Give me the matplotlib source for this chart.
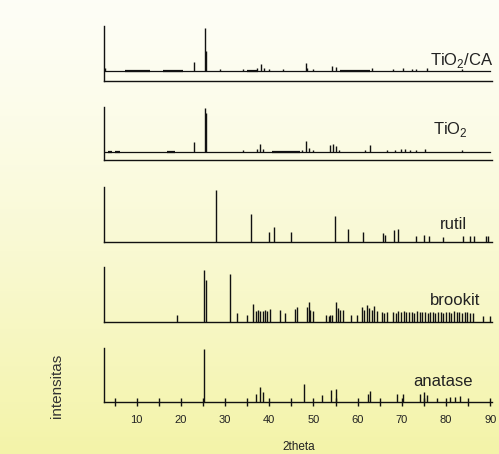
import numpy as np
import matplotlib
matplotlib.use("Agg")
import matplotlib.pyplot as plt

plt.rcParams['font.family'] = ['Liberation Sans', 'DejaVu Sans']
plt.rcParams['mathtext.fontset'] = 'custom'
plt.rcParams['mathtext.rm'] = 'Liberation Sans'

# --- data (2theta, relative height in panel) ---
# TiO2/CA measured pattern
ca_base = 0.19
ca_noise = [(7.3, 13.0), (16.0, 20.5), (34.9, 37.5), (56.0, 62.8)]
ca_peak_x = [2.9, 22.9, 25.5, 25.7, 28.8, 34.1, 37.3, 38.1, 38.9, 40.0, 43.2,
             48.2, 48.6, 50.0, 54.1, 55.2, 63.2, 68.1, 70.3, 72.2, 73.3, 75.6, 83.5]
ca_peak_y = [0.24, 0.35, 0.96, 0.55, 0.21, 0.22, 0.24, 0.31, 0.24, 0.22, 0.22,
             0.33, 0.24, 0.21, 0.27, 0.26, 0.24, 0.22, 0.23, 0.22, 0.22, 0.23, 0.21]

# TiO2 measured pattern
ti_base = 0.16
ti_noise = [(3.5, 4.3), (5.0, 6.3), (16.8, 18.7), (40.5, 47.0)]
ti_peak_x = [22.9, 25.4, 25.6, 34.0, 37.3, 37.9, 38.5, 47.3, 48.3, 48.9, 50.0,
             53.7, 54.5, 55.2, 55.8, 61.7, 62.8, 66.6, 68.4, 69.9, 70.7, 71.8,
             73.3, 75.2, 83.5]
ti_peak_y = [0.34, 0.99, 0.88, 0.19, 0.22, 0.30, 0.21, 0.20, 0.36, 0.23, 0.19,
             0.28, 0.31, 0.27, 0.20, 0.20, 0.29, 0.19, 0.20, 0.21, 0.22, 0.20,
             0.20, 0.21, 0.19]

# reference stick patterns
rutil_x = [27.9, 35.9, 39.9, 41.0, 44.8, 54.9, 57.9, 61.3, 65.7, 66.1, 68.2,
           69.2, 73.3, 75.0, 76.2, 79.4, 83.8, 85.4, 86.4, 89.0, 89.4]
rutil_y = [0.95, 0.50, 0.18, 0.27, 0.18, 0.47, 0.23, 0.18, 0.16, 0.12, 0.21,
           0.23, 0.10, 0.12, 0.10, 0.08, 0.10, 0.10, 0.10, 0.10, 0.10]

brook_x = [19.2, 25.3, 25.6, 31.0, 32.7, 34.9, 36.3, 37.1, 37.5, 38.0, 38.5,
           39.0, 39.4, 40.2, 42.4, 43.6, 45.8, 46.2, 48.5, 48.9, 49.3, 50.0,
           52.9, 53.4, 53.8, 54.2, 55.0, 55.5, 56.0, 56.7, 58.6, 59.8, 60.9,
           61.5, 62.0, 62.6, 63.2, 63.8, 64.3, 65.4, 66.0, 66.6, 68.0, 68.6,
           69.2, 69.8, 70.4, 71.0, 71.6, 72.2, 72.8, 73.4, 74.0, 74.6, 75.2,
           75.8, 76.4, 77.0, 77.6, 78.2, 78.8, 79.4, 80.0, 80.6, 81.2, 81.8,
           82.4, 83.0, 83.6, 84.2, 84.8, 85.4, 86.0, 88.3, 89.9]
brook_y = [0.12, 0.95, 0.76, 0.88, 0.15, 0.12, 0.32, 0.20, 0.21, 0.19, 0.20,
           0.21, 0.19, 0.23, 0.21, 0.15, 0.24, 0.27, 0.27, 0.36, 0.22, 0.20,
           0.12, 0.10, 0.12, 0.13, 0.36, 0.25, 0.22, 0.22, 0.12, 0.12, 0.27,
           0.22, 0.30, 0.25, 0.22, 0.28, 0.20, 0.18, 0.15, 0.18, 0.18, 0.16,
           0.20, 0.18, 0.19, 0.17, 0.18, 0.18, 0.16, 0.19, 0.18, 0.17, 0.18,
           0.16, 0.17, 0.18, 0.16, 0.18, 0.17, 0.16, 0.18, 0.17, 0.16, 0.20,
           0.18, 0.17, 0.16, 0.18, 0.17, 0.16, 0.15, 0.10, 0.10]

ana_x = [25.2, 36.9, 37.9, 38.6, 47.9, 52.0, 53.9, 55.2, 62.3, 62.8, 68.8,
         70.3, 74.1, 75.0, 75.6, 77.9, 80.9, 82.0, 83.1]
ana_y = [0.98, 0.16, 0.28, 0.19, 0.33, 0.13, 0.22, 0.24, 0.15, 0.20, 0.16,
         0.16, 0.16, 0.18, 0.14, 0.08, 0.10, 0.10, 0.12]

labels = ['TiO$_2$/CA', 'TiO$_2$', 'rutil', 'brookit', 'anatase']
major_ticks = [10, 20, 30, 40, 50, 60, 70, 80, 90]
minor_ticks = [5, 15, 25, 35, 45, 55, 65, 75, 85]

# --- figure ---
W, H = 499, 454
fig = plt.figure(figsize=(W / 100, H / 100), dpi=100)

# yellowish gradient background
bg = fig.add_axes([0, 0, 1, 1], zorder=-10)
t = np.linspace(0, 1, 256)[:, None]
top = np.array([0.995, 0.995, 0.965])
bot = np.array([0.955, 0.955, 0.66])
grad = top + (bot - top) * (t ** 1.3)[:, :, None] * np.ones((1, 2, 1))
bg.imshow(grad, aspect='auto', extent=[0, 1, 0, 1], origin='upper')
bg.axis('off')

# panel rectangles in pixels: (top, bottom)
panels_px = [(26, 81), (107, 160.3), (187, 241.7), (267, 321.7), (347.5, 402.3)]
left_px, right_px = 104, 491.6
xlim = (2.6, 90.3)

# label positions in axes fraction (right x, baseline y)
label_pos = [(1.004, 0.29), (0.939, 0.50), (0.937, 0.24), (0.970, 0.30), (0.952, 0.30)]

axes = []
for i, (tp, bt) in enumerate(panels_px):
    ax = fig.add_axes([left_px / W, 1 - bt / H, (right_px - left_px) / W, (bt - tp) / H])
    ax.set_facecolor('none')
    ax.set_xlim(*xlim)
    ax.set_ylim(0, 1)
    for s in ['top', 'right']:
        ax.spines[s].set_visible(False)
    for s in ['left', 'bottom']:
        ax.spines[s].set_linewidth(1.0)
        ax.spines[s].set_color('#111111')
    ax.set_yticks([])
    if i < 4:
        ax.set_xticks([])
    ax.text(label_pos[i][0], label_pos[i][1], labels[i], transform=ax.transAxes,
            ha='right', va='baseline', fontsize=12, color='#222222')
    axes.append(ax)

lc = '#111111'

# measured patterns
for ax, base, noise, px, py in [(axes[0], ca_base, ca_noise, ca_peak_x, ca_peak_y),
                                (axes[1], ti_base, ti_noise, ti_peak_x, ti_peak_y)]:
    ax.plot([2.7, 89.9], [base, base], color=lc, lw=0.9)
    for a, b in noise:
        ax.plot([a, b], [base, base], color=lc, lw=1.6, solid_capstyle='butt')
    ax.vlines(px, base, py, color=lc, lw=1.0)

# stick patterns
axes[2].vlines(rutil_x, 0, rutil_y, color=lc, lw=1.0)
axes[3].vlines(brook_x, 0, brook_y, color=lc, lw=1.0)
axes[4].vlines(ana_x, 0, ana_y, color=lc, lw=1.0)

ax = axes[4]
ax.set_xticks(major_ticks)
ax.set_xticks(minor_ticks, minor=True)
ax.tick_params(axis='x', which='both', direction='inout', length=6, width=1.0,
               color='#111111', labelsize=8, pad=6, labelcolor='#222222')
for lab in ax.get_xticklabels():
    lab.set_family(['Liberation Sans Narrow', 'Liberation Sans', 'DejaVu Sans'])

fig.text(299 / W, 1 - 447 / H, '2theta', ha='center', va='center', fontsize=8.5,
         color='#222222')
fig.text(57 / W, 1 - 386 / H, 'intensitas', ha='center', va='center', rotation=90,
         fontsize=11, color='#333333')

fig.savefig('out.png', dpi=100)
